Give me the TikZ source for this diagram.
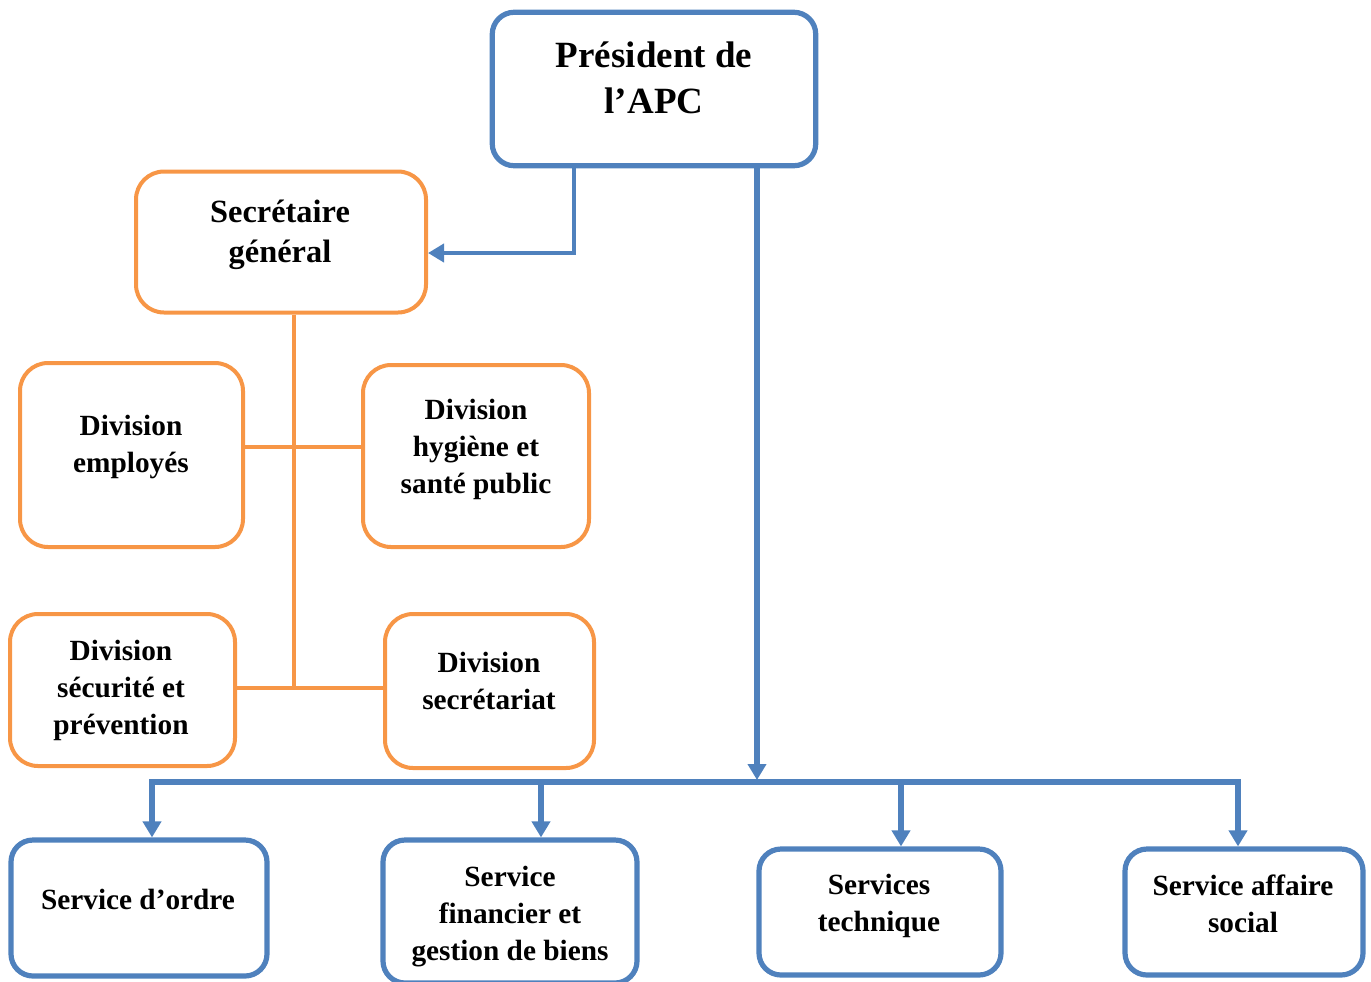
\documentclass[tikz,border=0pt]{standalone}
\usepackage{fontspec}
\setmainfont{Liberation Serif}
\usetikzlibrary{
        arrows.meta,
        positioning
    }
\definecolor{orgblue}{HTML}{4F81BD}
\definecolor{orgorange}{HTML}{F79646}
\tikzset{>={Triangle[length=8pt,width=9pt]}}
\tikzset{
    bluebox/.style={rectangle,draw=orgblue,line width=2.6pt,rounded corners=11pt},
    orangebox/.style={rectangle,draw=orgorange,line width=2pt,rounded corners=14pt},
    boxtext/.style={align=center,inner sep=0pt,font=\fontsize{14.65}{18.5}\selectfont\bfseries},
    sgtext/.style={align=center,inner sep=0pt,font=\fontsize{16.2}{20}\selectfont\bfseries},
    toptext/.style={align=center,inner sep=0pt,font=\fontsize{18.5}{23}\selectfont\bfseries},
    blueline/.style={draw=orgblue,line width=2.75pt},
    orangeline/.style={draw=orgorange,line width=1.75pt}
}

\begin{document}
\begin{tikzpicture}[x=0.5pt,y=-0.5pt]
    \useasboundingbox (0,0) rectangle (1371,981);
    % boxes
    \node[bluebox,minimum width=161.75pt,minimum height=76.75pt] (pres) at (654,89) {};
    \node[orangebox,minimum width=145pt,minimum height=70.5pt] (sg) at (281,242) {};
    \node[orangebox,minimum width=111.5pt,minimum height=92pt] (demp) at (131.5,455) {};
    \node[orangebox,minimum width=113pt,minimum height=91pt] (dhyg) at (476,456) {};
    \node[orangebox,minimum width=112.5pt,minimum height=76pt] (dsec) at (122.5,690) {};
    \node[orangebox,minimum width=104.5pt,minimum height=77pt] (dsecr) at (489.5,691) {};
    \node[bluebox,minimum width=128pt,minimum height=68pt] (sord) at (139,908) {};
    \node[bluebox,minimum width=127pt,minimum height=71.5pt] (sfin) at (510,911.5) {};
    \node[bluebox,minimum width=121pt,minimum height=63pt] (stech) at (880,912) {};
    \node[bluebox,minimum width=119pt,minimum height=63pt] (ssoc) at (1244,912) {};
    % texts
    \node[toptext] (pres-t) at (654,78) {Président de\\l’APC};
    \node[sgtext] (sg-t) at (280,235) {Secrétaire\\général};
    \node[boxtext] (demp-t) at (131,447) {Division\\employés};
    \node[boxtext] (dhyg-t) at (476,449) {Division\\hygiène et\\santé public};
    \node[boxtext] (dsec-t) at (121,690) {Division\\sécurité et\\prévention};
    \node[boxtext] (dsecr-t) at (489,681) {Division\\secrétariat};
    \node[boxtext] (sord-t) at (138,899) {Service d’ordre};
    \node[boxtext] (sfin-t) at (510,917) {Service\\financier et\\gestion de biens};
    \node[boxtext] (stech-t) at (879,906) {Services\\technique};
    \node[boxtext] (ssoc-t) at (1243,904) {Service affaire\\social};
    % connectors
    \coordinate (c1) at (574,253);
    \coordinate (bus) at (757,780);
    \coordinate (d1) at (152,782);
    \coordinate (d2) at (541,782);
    \coordinate (d3) at (901,782);
    \coordinate (d4) at (1238,782);
    \coordinate (o1) at (294,447);
    \coordinate (o2) at (294,688);
    \draw[blueline,line width=2.25pt,->] (pres.south -| c1) |- (sg.east |- c1);
    \draw[blueline,->] (pres.south -| bus) -- (bus);
    \draw[blueline,->] (d3) -- (d1) -- (d1 |- sord.north);
    \draw[blueline,->] (d3) -- (d4) -- (d4 |- ssoc.north);
    \draw[blueline,->] (d2) -- (d2 |- sfin.north);
    \draw[blueline,->] (d3) -- (d3 |- stech.north);
    \draw[orangeline] (sg.south -| o1) -- (o2);
    \draw[orangeline] (demp.east |- o1) -- (dhyg.west |- o1);
    \draw[orangeline] (dsec.east |- o2) -- (dsecr.west |- o2);
\end{tikzpicture}
\end{document}
